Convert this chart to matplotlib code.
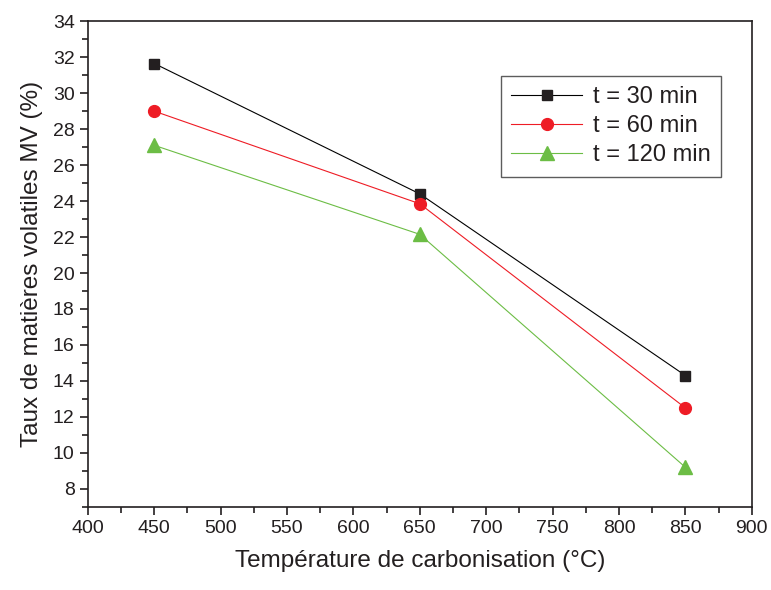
import matplotlib

matplotlib.use("Agg")
import matplotlib.pyplot as plt
from matplotlib.ticker import MultipleLocator

plt.rcParams["font.family"] = ["Liberation Sans", "DejaVu Sans"]

# Data
temperature = [450, 650, 850]
mv_30 = [31.65, 24.4, 14.3]
mv_60 = [29.0, 23.85, 12.5]
mv_120 = [27.1, 22.15, 9.2]

fig = plt.figure(figsize=(7.71, 5.90), dpi=100)
ax = fig.add_axes([0.114, 0.141, 0.861, 0.823])

ax.plot(temperature, mv_30, color="black", linewidth=0.8, marker="s",
        markersize=7.5, markerfacecolor="#231f20", markeredgecolor="#231f20",
        label="t = 30 min")
ax.plot(temperature, mv_60, color="#ee1c25", linewidth=0.8, marker="o",
        markersize=8.5, label="t = 60 min")
ax.plot(temperature, mv_120, color="#6cbd45", linewidth=0.8, marker="^",
        markersize=9.5, label="t = 120 min")

ax.set_xlim(400, 900)
ax.set_ylim(7, 34)
ax.xaxis.set_major_locator(MultipleLocator(50))
ax.xaxis.set_minor_locator(MultipleLocator(25))
ax.yaxis.set_major_locator(MultipleLocator(2))
ax.yaxis.set_minor_locator(MultipleLocator(1))
ax.tick_params(which="both", direction="out", top=False, right=False,
               labelsize=14, width=1.2, colors="#231f20")
ax.tick_params(which="major", length=6)
ax.tick_params(which="minor", length=4)
for s in ax.spines.values():
    s.set_linewidth(1.2)
    s.set_color("#231f20")

ax.set_xlabel("Température de carbonisation (°C)", fontsize=17.5, labelpad=9,
              color="#231f20")
ax.set_ylabel("Taux de matières volatiles MV (%)", fontsize=17.5, labelpad=7,
              color="#231f20")

leg = ax.legend(loc="upper right", bbox_to_anchor=(0.954, 0.888), fontsize=17,
                frameon=True, fancybox=False, edgecolor="#333333",
                borderpad=0.45, handlelength=3.0, labelspacing=0.3,
                handletextpad=0.45, borderaxespad=0)
leg.get_frame().set_linewidth(1.0)
for t in leg.get_texts():
    t.set_color("#231f20")

fig.savefig("out.png", dpi=100)
